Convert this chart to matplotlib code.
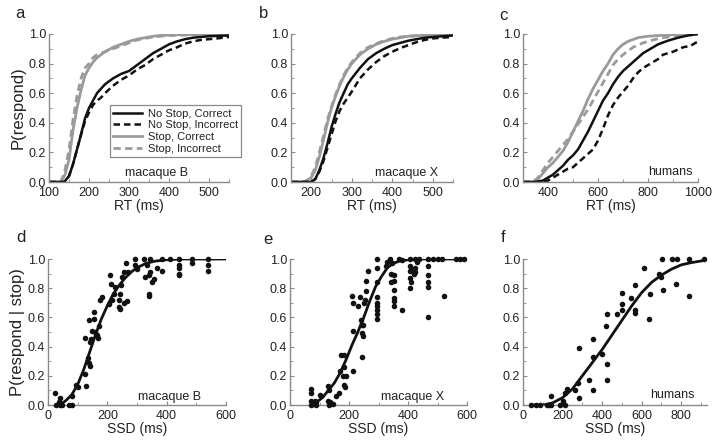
import matplotlib
matplotlib.use('Agg')
import matplotlib.pyplot as plt
from matplotlib.ticker import MultipleLocator

plt.rcParams['font.family'] = ['Liberation Sans', 'DejaVu Sans']

# ---- top row: cumulative RT distributions ----
# panel a, macaque B
a_nsc_x = [100, 138, 150, 160, 170, 180, 190, 200, 210, 220, 240, 260, 280, 300, 320, 340, 360, 380, 400, 420, 440, 460, 480, 500, 550]
a_nsc_y = [0.0, 0.0, 0.04, 0.12, 0.22, 0.32, 0.43, 0.5, 0.55, 0.6, 0.66, 0.7, 0.73, 0.75, 0.79, 0.83, 0.87, 0.9, 0.93, 0.95, 0.965, 0.975, 0.98, 0.985, 0.99]
a_nsi_x = [100, 138, 150, 160, 170, 180, 190, 200, 210, 220, 230, 240, 260, 280, 300, 320, 340, 360, 380, 400, 420, 440, 460, 480, 500, 520, 550]
a_nsi_y = [0.0, 0.0, 0.04, 0.12, 0.22, 0.32, 0.41, 0.47, 0.52, 0.55, 0.57, 0.6, 0.65, 0.69, 0.72, 0.76, 0.79, 0.83, 0.86, 0.89, 0.91, 0.935, 0.95, 0.96, 0.965, 0.97, 0.98]
a_sc_x = [100, 130, 140, 150, 160, 170, 180, 190, 200, 210, 220, 240, 260, 280, 300, 320, 340, 360, 380, 420, 550]
a_sc_y = [0.0, 0.0, 0.05, 0.15, 0.35, 0.5, 0.62, 0.72, 0.77, 0.81, 0.84, 0.88, 0.91, 0.93, 0.95, 0.965, 0.975, 0.985, 0.99, 0.995, 1.0]
a_si_x = [100, 130, 140, 150, 160, 170, 180, 190, 200, 210, 220, 240, 260, 280, 300, 320, 340, 360, 400, 550]
a_si_y = [0.0, 0.0, 0.08, 0.22, 0.42, 0.58, 0.7, 0.77, 0.8, 0.84, 0.86, 0.88, 0.9, 0.92, 0.94, 0.96, 0.97, 0.98, 0.99, 1.0]

# panel b, macaque X
b_nsc_x = [150, 200, 210, 220, 230, 240, 250, 260, 270, 280, 290, 300, 320, 340, 360, 380, 400, 420, 440, 460, 480, 500, 550]
b_nsc_y = [0.0, 0.0, 0.02, 0.08, 0.16, 0.26, 0.37, 0.46, 0.54, 0.6, 0.66, 0.7, 0.77, 0.83, 0.87, 0.9, 0.925, 0.94, 0.955, 0.965, 0.975, 0.98, 0.99]
b_nsi_x = [150, 200, 210, 220, 230, 240, 250, 260, 270, 280, 290, 300, 320, 340, 360, 380, 400, 420, 440, 460, 480, 500, 520, 550]
b_nsi_y = [0.0, 0.0, 0.02, 0.07, 0.14, 0.23, 0.32, 0.41, 0.48, 0.53, 0.57, 0.61, 0.7, 0.76, 0.81, 0.85, 0.88, 0.905, 0.925, 0.945, 0.96, 0.97, 0.975, 0.98]
b_sc_x = [150, 180, 190, 200, 210, 220, 230, 240, 250, 260, 270, 280, 290, 300, 320, 340, 360, 380, 400, 420, 440, 470, 500, 550]
b_sc_y = [0.0, 0.0, 0.01, 0.03, 0.08, 0.17, 0.28, 0.4, 0.5, 0.58, 0.65, 0.71, 0.76, 0.8, 0.86, 0.9, 0.93, 0.95, 0.965, 0.975, 0.985, 0.99, 0.995, 1.0]
b_si_x = [150, 180, 190, 200, 210, 220, 230, 240, 250, 260, 270, 280, 290, 300, 320, 340, 360, 380, 400, 420, 440, 470, 500, 550]
b_si_y = [0.0, 0.0, 0.01, 0.04, 0.1, 0.2, 0.31, 0.42, 0.51, 0.59, 0.66, 0.72, 0.77, 0.81, 0.87, 0.91, 0.935, 0.955, 0.97, 0.98, 0.985, 0.99, 0.995, 1.0]

# panel c, humans
c_nsc_x = [300, 350, 380, 400, 420, 440, 460, 480, 500, 520, 540, 560, 580, 600, 620, 640, 660, 680, 700, 720, 740, 760, 780, 800, 840, 880, 920, 960, 1000]
c_nsc_y = [0.0, 0.0, 0.01, 0.03, 0.05, 0.08, 0.11, 0.15, 0.18, 0.22, 0.28, 0.34, 0.41, 0.48, 0.55, 0.6, 0.66, 0.71, 0.75, 0.78, 0.81, 0.84, 0.87, 0.89, 0.93, 0.955, 0.975, 0.99, 1.0]
c_nsi_x = [300, 380, 400, 420, 440, 460, 480, 500, 520, 540, 560, 580, 600, 620, 640, 660, 680, 700, 720, 740, 760, 780, 800, 820, 840, 860, 880, 900, 940, 970, 1000]
c_nsi_y = [0.0, 0.0, 0.01, 0.03, 0.05, 0.07, 0.09, 0.1, 0.13, 0.16, 0.19, 0.22, 0.28, 0.36, 0.45, 0.52, 0.57, 0.61, 0.65, 0.7, 0.74, 0.77, 0.79, 0.81, 0.83, 0.86, 0.87, 0.88, 0.91, 0.92, 0.95]
c_sc_x = [300, 340, 360, 380, 400, 420, 440, 460, 480, 500, 520, 540, 560, 580, 600, 620, 640, 660, 680, 700, 720, 760, 800, 900, 1000]
c_sc_y = [0.0, 0.0, 0.02, 0.06, 0.1, 0.13, 0.17, 0.21, 0.27, 0.34, 0.41, 0.48, 0.56, 0.63, 0.69, 0.75, 0.8, 0.86, 0.9, 0.93, 0.95, 0.975, 0.985, 0.995, 1.0]
c_si_x = [300, 340, 360, 380, 400, 420, 440, 460, 480, 500, 520, 540, 560, 580, 600, 620, 640, 660, 680, 700, 740, 780, 820, 860, 900, 1000]
c_si_y = [0.0, 0.0, 0.03, 0.08, 0.13, 0.17, 0.21, 0.25, 0.29, 0.34, 0.39, 0.44, 0.49, 0.55, 0.61, 0.67, 0.73, 0.79, 0.83, 0.86, 0.91, 0.94, 0.96, 0.975, 0.985, 1.0]

# ---- bottom row: inhibition functions ----
d_pts_x = [25, 28, 36, 39, 42, 47, 70, 81, 81, 96, 100, 126, 126, 128, 134, 137, 137, 140, 143, 145, 148, 154, 156, 160, 165, 167, 171, 176, 182, 204, 210, 212, 216, 221, 227, 238, 240, 242, 244, 246, 249, 255, 257, 264, 266, 269, 294, 294, 300, 325, 326, 334, 339, 339, 339, 343, 345, 351, 356, 367, 384, 384, 412, 440, 440, 440, 440, 440, 485, 485, 538, 538, 538]
d_pts_y = [0.08, 0.0, 0.02, 0.0, 0.05, 0.0, 0.0, 0.06, 0.0, 0.14, 0.12, 0.46, 0.21, 0.13, 0.32, 0.29, 0.58, 0.27, 0.43, 0.45, 0.51, 0.59, 0.64, 0.5, 0.48, 0.46, 0.54, 0.72, 0.74, 0.69, 0.89, 0.83, 0.72, 0.76, 0.81, 0.72, 0.67, 0.66, 0.76, 0.82, 0.88, 0.7, 0.91, 0.97, 0.71, 0.91, 1.0, 0.96, 0.93, 1.0, 0.88, 0.96, 0.89, 0.76, 0.75, 1.0, 0.91, 0.84, 0.86, 0.94, 1.0, 0.92, 1.0, 1.0, 0.96, 0.94, 0.9, 0.89, 1.0, 0.97, 1.0, 0.96, 0.92]
d_fit_x = [40, 60, 80, 100, 120, 140, 160, 180, 200, 220, 240, 260, 280, 300, 330, 360, 400, 450, 500, 600]
d_fit_y = [0.0, 0.03, 0.07, 0.14, 0.24, 0.36, 0.48, 0.59, 0.68, 0.76, 0.82, 0.87, 0.91, 0.94, 0.97, 0.985, 0.995, 1.0, 1.0, 1.0]

e_pts_x = [70, 70, 70, 70, 78, 84, 87, 89, 100, 128, 128, 131, 134, 145, 132, 156, 165, 173, 179, 184, 184, 184, 187, 190, 171, 210, 212, 215, 212, 229, 237, 240, 244, 244, 244, 246, 248, 251, 255, 257, 257, 266, 296, 296, 296, 296, 296, 296, 296, 296, 296, 324, 330, 339, 341, 341, 346, 352, 352, 352, 352, 354, 354, 369, 380, 380, 408, 408, 408, 408, 411, 408, 413, 419, 425, 425, 425, 430, 436, 467, 467, 467, 467, 467, 467, 486, 503, 514, 523, 564, 575, 590]
e_pts_y = [0.11, 0.08, 0.03, 0.0, 0.01, 0.03, 0.0, 0.02, 0.07, 0.13, 0.03, 0.0, 0.02, 0.01, 0.1, 0.06, 0.08, 0.34, 0.2, 0.34, 0.26, 0.14, 0.12, 0.2, 0.23, 0.75, 0.7, 0.23, 0.51, 0.68, 0.74, 0.58, 0.55, 0.49, 0.33, 0.47, 0.55, 0.7, 0.72, 0.78, 0.85, 0.92, 1.0, 0.94, 0.84, 0.74, 0.68, 0.65, 0.62, 0.59, 0.7, 0.95, 0.98, 1.0, 0.84, 0.9, 0.97, 0.89, 0.85, 0.79, 0.71, 0.68, 0.73, 1.0, 0.99, 0.65, 1.0, 0.95, 0.92, 0.87, 0.84, 0.8, 0.93, 0.9, 1.0, 0.94, 0.91, 0.98, 1.0, 1.0, 0.95, 0.89, 0.84, 0.81, 0.6, 1.0, 1.0, 1.0, 0.75, 1.0, 1.0, 1.0]
e_fit_x = [70, 90, 110, 130, 150, 170, 190, 210, 230, 250, 270, 290, 310, 330, 350, 370, 400, 450, 600]
e_fit_y = [0.0, 0.02, 0.05, 0.1, 0.15, 0.22, 0.31, 0.41, 0.5, 0.6, 0.71, 0.81, 0.88, 0.94, 0.97, 0.985, 0.995, 1.0, 1.0]

f_pts_x = [42, 68, 85, 119, 132, 144, 144, 186, 212, 203, 212, 220, 263, 280, 285, 285, 336, 353, 356, 356, 398, 424, 424, 420, 424, 475, 500, 500, 500, 547, 568, 568, 568, 610, 636, 641, 686, 695, 708, 703, 754, 780, 771, 839, 839, 915]
f_pts_y = [0.0, 0.0, 0.0, 0.0, 0.0, 0.0, 0.06, 0.0, 0.0, 0.03, 0.08, 0.11, 0.1, 0.15, 0.05, 0.39, 0.17, 0.45, 0.1, 0.33, 0.35, 0.28, 0.17, 0.54, 0.62, 0.62, 0.69, 0.65, 0.77, 0.73, 0.82, 0.65, 0.63, 0.94, 0.59, 0.76, 0.9, 0.88, 0.79, 1.0, 1.0, 1.0, 0.83, 1.0, 0.75, 1.0]
f_fit_x = [60, 105, 150, 200, 250, 300, 350, 400, 450, 500, 550, 600, 650, 700, 750, 800, 850, 915]
f_fit_y = [0.0, 0.0, 0.015, 0.05, 0.11, 0.2, 0.29, 0.38, 0.48, 0.58, 0.68, 0.77, 0.84, 0.89, 0.93, 0.96, 0.975, 0.99]

W, H = 714, 445
fig = plt.figure(figsize=(W / 100, H / 100), dpi=100)

def px_axes(x0, x1, y0, y1):
    return fig.add_axes([x0 / W, 1 - y1 / H, (x1 - x0) / W, (y1 - y0) / H])

spine_col = '#8a8a8a'
txt_col = '#222222'
blk = '#111111'
gry = '#9a9a9a'
dash = (0, (2.6, 1.6))

def style(ax, xlim, xmajor, xlabel, ylabel=None):
    ax.set_xlim(*xlim)
    ax.set_ylim(0, 1.0)
    for s in ['top', 'right']:
        ax.spines[s].set_visible(False)
    for s in ['left', 'bottom']:
        ax.spines[s].set_color(spine_col)
        ax.spines[s].set_linewidth(1.0)
    ax.xaxis.set_major_locator(MultipleLocator(xmajor))
    ax.xaxis.set_minor_locator(MultipleLocator(xmajor / 2))
    ax.yaxis.set_major_locator(MultipleLocator(0.2))
    ax.yaxis.set_minor_locator(MultipleLocator(0.1))
    ax.tick_params(which='both', direction='in', color=spine_col, labelcolor=txt_col,
                   labelsize=9, pad=2)
    ax.tick_params(axis='x', which='both', pad=3.5)
    ax.tick_params(which='major', length=3)
    ax.tick_params(which='minor', length=2)
    ax.yaxis.set_major_formatter(matplotlib.ticker.FormatStrFormatter('%.1f'))
    ax.set_xlabel(xlabel, fontsize=10, color=txt_col, labelpad=0)
    if ylabel:
        ax.set_ylabel(ylabel, fontsize=12, color=txt_col, labelpad=2)

def letter(x, y, s):
    fig.text(x / W, 1 - y / H, s, fontsize=12, color=txt_col, ha='center', va='center')

# top row
ax_a = px_axes(49, 229, 34, 182)
ax_b = px_axes(291, 453, 34, 182)
ax_c = px_axes(523, 698, 34, 182)
top = [
    (ax_a, (a_nsc_x, a_nsc_y), (a_nsi_x, a_nsi_y), (a_sc_x, a_sc_y), (a_si_x, a_si_y)),
    (ax_b, (b_nsc_x, b_nsc_y), (b_nsi_x, b_nsi_y), (b_sc_x, b_sc_y), (b_si_x, b_si_y)),
    (ax_c, (c_nsc_x, c_nsc_y), (c_nsi_x, c_nsi_y), (c_sc_x, c_sc_y), (c_si_x, c_si_y)),
]
handles = []
for ax, nsc, nsi, sc, si in top:
    h1, = ax.plot(*sc, color=gry, lw=2.0, label='Stop, Correct')
    h2, = ax.plot(*si, color=gry, lw=2.0, ls=dash, label='Stop, Incorrect')
    h3, = ax.plot(*nsc, color=blk, lw=1.8, label='No Stop, Correct')
    h4, = ax.plot(*nsi, color=blk, lw=1.8, ls=dash, label='No Stop, Incorrect')
    handles = [h3, h4, h1, h2]

style(ax_a, (100, 550), 100, 'RT (ms)', 'P(respond)')
style(ax_b, (150, 550), 100, 'RT (ms)')
style(ax_c, (300, 1000), 200, 'RT (ms)')
ax_a.xaxis.set_minor_locator(MultipleLocator(50))
ax_c.xaxis.set_minor_locator(MultipleLocator(100))

ax_a.text(0.6, 0.06, 'macaque B', transform=ax_a.transAxes, fontsize=9, color=txt_col, ha='center', va='center')
ax_b.text(0.716, 0.06, 'macaque X', transform=ax_b.transAxes, fontsize=9, color=txt_col, ha='center', va='center')
ax_c.text(0.84, 0.07, 'humans', transform=ax_c.transAxes, fontsize=9, color=txt_col, ha='center', va='center')

leg = fig.legend(handles, [h.get_label() for h in handles], loc='lower left',
                 bbox_to_anchor=(110 / W, 1 - 157 / H), borderaxespad=0, fontsize=8,
                 handlelength=2.6, handletextpad=0.5, labelspacing=0.15, borderpad=0.3,
                 fancybox=False, framealpha=1)
leg.get_frame().set_edgecolor(spine_col)
leg.get_frame().set_linewidth(0.9)
for t in leg.get_texts():
    t.set_color(txt_col)

# bottom row
ax_d = px_axes(48, 226, 259, 405)
ax_e = px_axes(290, 467, 259, 405)
ax_f = px_axes(523, 707, 259, 405)
for ax, px_, py_, fx, fy in [(ax_d, d_pts_x, d_pts_y, d_fit_x, d_fit_y),
                             (ax_e, e_pts_x, e_pts_y, e_fit_x, e_fit_y),
                             (ax_f, f_pts_x, f_pts_y, f_fit_x, f_fit_y)]:
    ax.scatter(px_, py_, s=16, color=blk, zorder=3, clip_on=False, linewidths=0)
    ax.plot(fx, fy, color=blk, lw=2.0, zorder=4)

style(ax_d, (0, 600), 200, 'SSD (ms)', 'P(respond | stop)')
style(ax_e, (0, 600), 200, 'SSD (ms)')
style(ax_f, (0, 930), 200, 'SSD (ms)')

ax_d.text(0.685, 0.055, 'macaque B', transform=ax_d.transAxes, fontsize=9, color=txt_col, ha='center', va='center')
ax_e.text(0.69, 0.055, 'macaque X', transform=ax_e.transAxes, fontsize=9, color=txt_col, ha='center', va='center')
ax_f.text(0.81, 0.07, 'humans', transform=ax_f.transAxes, fontsize=9, color=txt_col, ha='center', va='center')

letter(20, 14, 'a')
letter(264, 13, 'b')
letter(503, 15, 'c')
letter(21, 237, 'd')
letter(268, 239, 'e')
letter(503, 237, 'f')

fig.savefig('out.png', dpi=100)
